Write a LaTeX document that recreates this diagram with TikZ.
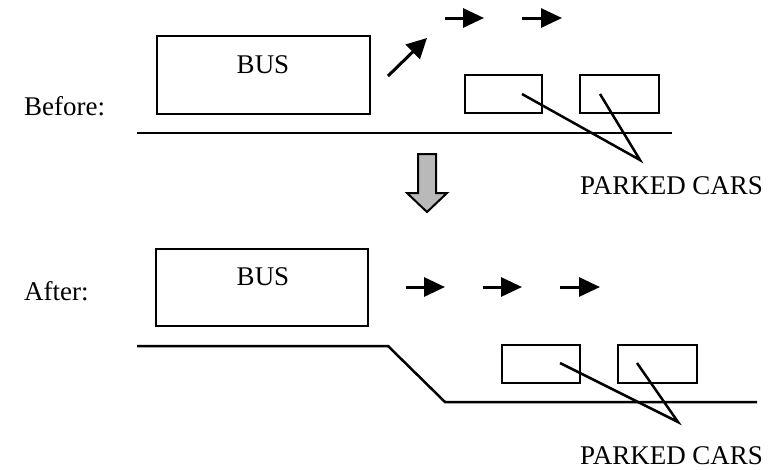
\documentclass[tikz,border=0pt]{standalone}
\usepackage{fontspec}
\setmainfont{Liberation Serif}
\usetikzlibrary{arrows.meta}
\tikzset{
  box/.style={draw, line width=2pt, inner sep=0pt},
  lbl/.style={font=\fontsize{27}{32}\selectfont, inner sep=0pt},
  arr/.style={-{Triangle[length=21pt,width=19pt]}, line width=3pt},
  road/.style={line width=2.5pt},
  leader/.style={line width=2.5pt},
  blockarrow/.style={draw, line width=2pt, fill=gray!55, line join=miter}
}
\begin{document}
\begin{tikzpicture}[x=1pt,y=-1pt]
\useasboundingbox (0,0) rectangle (775,469);
% ---------- BEFORE ----------
\node[lbl, anchor=base west] (before) at (24,115) {Before:};
\node[box, minimum width=213pt, minimum height=78pt] (bus1) at (263.5,75) {};
\node[lbl, anchor=base] (bus1t) at (263,73) {BUS};
\node[box, minimum width=77pt, minimum height=38pt] (car1a) at (503.5,94) {};
\node[box, minimum width=79pt, minimum height=38pt] (car1b) at (619.5,94) {};
\coordinate (r1a) at (137,133);
\coordinate (r1b) at (672,133);
\draw[road] (r1a) -- (r1b);
% arrows
\coordinate (d1s) at (388,76);
\coordinate (d1e) at (427,38);
\draw[-{Triangle[length=20pt,width=20pt]}, line width=3pt] (d1s) -- (d1e);
\coordinate (h1s) at (445,18); \coordinate (h1e) at (484,18);
\coordinate (h2s) at (522,18); \coordinate (h2e) at (562,18);
\draw[arr] (h1s) -- (h1e);
\draw[arr] (h2s) -- (h2e);
% leaders
\coordinate (l1a) at (522,94);
\coordinate (l1b) at (600,94);
\coordinate (tip1) at (640,160);
\draw[leader] (l1a) -- (tip1) -- (l1b);
\node[lbl, anchor=base west] (pc1) at (580,194) {PARKED CARS};
% ---------- transition arrow ----------
\draw[blockarrow] (418,154) -- (436,154) -- (436,193) -- (447,193) -- (427,212) -- (407,193) -- (418,193) -- cycle;
% ---------- AFTER ----------
\node[lbl, anchor=base west] (after) at (24,300) {After:};
\node[box, minimum width=212pt, minimum height=77pt] (bus2) at (262,287.5) {};
\node[lbl, anchor=base] (bus2t) at (263,285) {BUS};
\coordinate (h3s) at (406,287); \coordinate (h3e) at (445,287);
\coordinate (h4s) at (483,287); \coordinate (h4e) at (522,287);
\coordinate (h5s) at (560,287); \coordinate (h5e) at (600,287);
\draw[arr] (h3s) -- (h3e);
\draw[arr] (h4s) -- (h4e);
\draw[arr] (h5s) -- (h5e);
\coordinate (r2a) at (137,346);
\coordinate (r2b) at (388,346);
\coordinate (r2c) at (445,402);
\coordinate (r2d) at (757,402);
\draw[road, line join=miter] (r2a) -- (r2b) -- (r2c) -- (r2d);
\node[box, minimum width=78pt, minimum height=38pt] (car2a) at (541,364) {};
\node[box, minimum width=79pt, minimum height=38pt] (car2b) at (657.5,364) {};
\coordinate (l2a) at (560,363);
\coordinate (l2b) at (637,363);
\coordinate (tip2) at (678,422);
\draw[leader] (l2a) -- (tip2) -- (l2b);
\node[lbl, anchor=base west, text depth=0pt] (pc2) at (580,464) {PARKED CARS};
\end{tikzpicture}
\end{document}
